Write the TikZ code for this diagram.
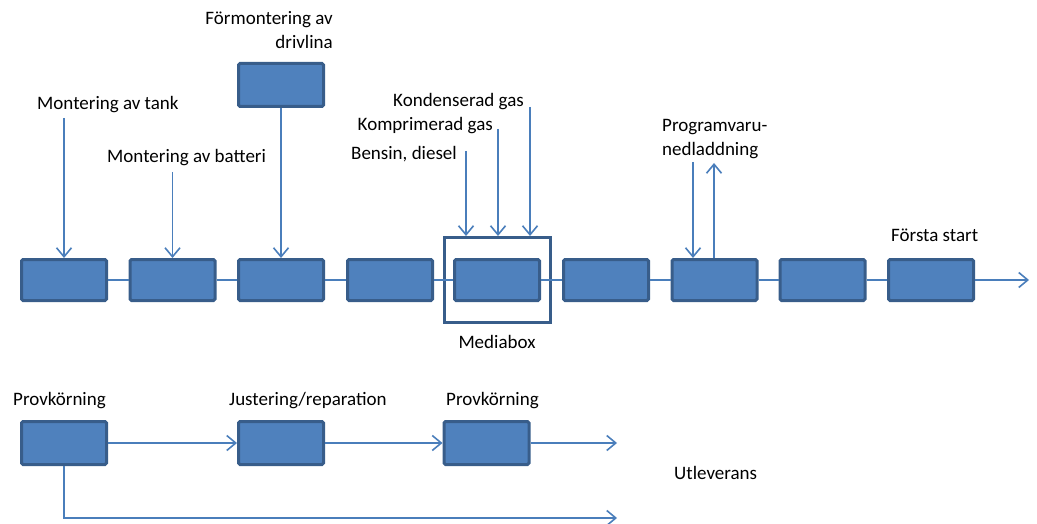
\documentclass[tikz,border=0pt]{standalone}
\usepackage{fontspec}
\setmainfont{Carlito}
\usetikzlibrary{arrows.meta}
\definecolor{boxfill}{RGB}{79,129,189}
\definecolor{boxdraw}{RGB}{56,93,138}
\definecolor{linec}{RGB}{74,126,187}
\tikzset{
  procbox/.style={draw=boxdraw, fill=boxfill, line width=3pt, rounded corners=1.5pt, minimum width=85pt, minimum height=41pt, inner sep=0pt},
  outerbox/.style={draw=boxdraw, line width=3pt, minimum width=106pt, minimum height=85pt, inner sep=0pt},
  conn/.style={draw=linec, line width=1.6pt},
  arr/.style={conn, -{Straight Barb[length=9pt,width=15pt,line width=1.6pt]}},
  lbl/.style={inner sep=0pt, font=\fontsize{19}{23.5}\selectfont, text=black}
}
\begin{document}
\begin{tikzpicture}[x=1pt,y=-1pt]
\useasboundingbox (0,0) rectangle (1037,524);
% main line boxes
\node[procbox] (b1) at (64,280) {};
\node[procbox] (b2) at (172.5,280) {};
\node[procbox] (b3) at (281,280) {};
\node[procbox] (b4) at (390,280) {};
\node[procbox] (b5) at (497,280) {};
\node[procbox] (b6) at (606,280) {};
\node[procbox] (b7) at (714.5,280) {};
\node[procbox] (b8) at (822.5,280) {};
\node[procbox] (b9) at (931,280) {};
\node[outerbox] (mb) at (497.5,280) {};
\node[procbox, minimum height=43pt] (drv) at (281,85) {};
% connectors main line
\draw[conn] (b1) -- (b2);
\draw[conn] (b2) -- (b3);
\draw[conn] (b3) -- (b4);
\draw[conn] (b4) -- (b5);
\draw[conn] (b5) -- (b6);
\draw[conn] (b6) -- (b7);
\draw[conn] (b7) -- (b8);
\draw[conn] (b8) -- (b9);
\coordinate (endmain) at (1029,280);
\draw[arr] (b9) -- (endmain);
% labels top
\node[lbl, anchor=west] (ltank) at (37,105) {Montering av tank};
\node[lbl, anchor=west] (lbatt) at (107,158) {Montering av batteri};
\node[lbl, anchor=east, align=right] (ldrv) at (333,30) {Förmontering av\\drivlina};
\node[lbl, anchor=east] (lkond) at (524,102) {Kondenserad gas};
\node[lbl, anchor=east] (lkomp) at (493,126) {Komprimerad gas};
\node[lbl, anchor=east] (lbens) at (457,154) {Bensin, diesel};
\node[lbl, anchor=west, align=left] (lprog) at (662,139) {Programvaru-\\nedladdning};
\node[lbl, anchor=west] (lforsta) at (891,235) {Första start};
\node[lbl] (lmedia) at (497,342) {Mediabox};
% input arrows
\coordinate (stank) at (64,118);
\coordinate (sbatt) at (172.5,172);
\coordinate (sbens) at (466,151);
\coordinate (skomp) at (498,129);
\coordinate (skond) at (530,107);
\coordinate (sprogd) at (693,162);
\coordinate (sprogu) at (714,163);
\draw[arr] (stank) -- (stank |- b1.north);
\draw[arr] (sbatt) -- (sbatt |- b2.north);
\draw[arr] (drv) -- (b3);
\draw[arr] (sbens) -- (sbens |- mb.north);
\draw[arr] (skomp) -- (skomp |- mb.north);
\draw[arr] (skond) -- (skond |- mb.north);
\draw[arr] (sprogd) -- (sprogd |- b7.north);
\draw[arr] (sprogu |- b7.north) -- (sprogu);
% bottom section
\node[procbox, minimum height=43pt] (p1) at (64,443) {};
\node[procbox, minimum height=43pt] (jr) at (281,443) {};
\node[procbox, minimum height=43pt] (p2) at (486.5,443) {};
\node[lbl, anchor=west] (lp1) at (13,401) {Provkörning};
\node[lbl, anchor=west] (ljr) at (229,401) {Justering/reparation};
\node[lbl, anchor=west] (lp2) at (446,401) {Provkörning};
\node[lbl, anchor=west] (lutl) at (674,473) {Utleverans};
\draw[arr] (p1) -- (jr);
\draw[arr] (jr) -- (p2);
\coordinate (endp2) at (617,443);
\draw[arr] (p2) -- (endp2);
\coordinate (endlow) at (617,518);
\draw[arr] (p1.south) -- (p1.south |- endlow) -- (endlow);
\end{tikzpicture}
\end{document}
